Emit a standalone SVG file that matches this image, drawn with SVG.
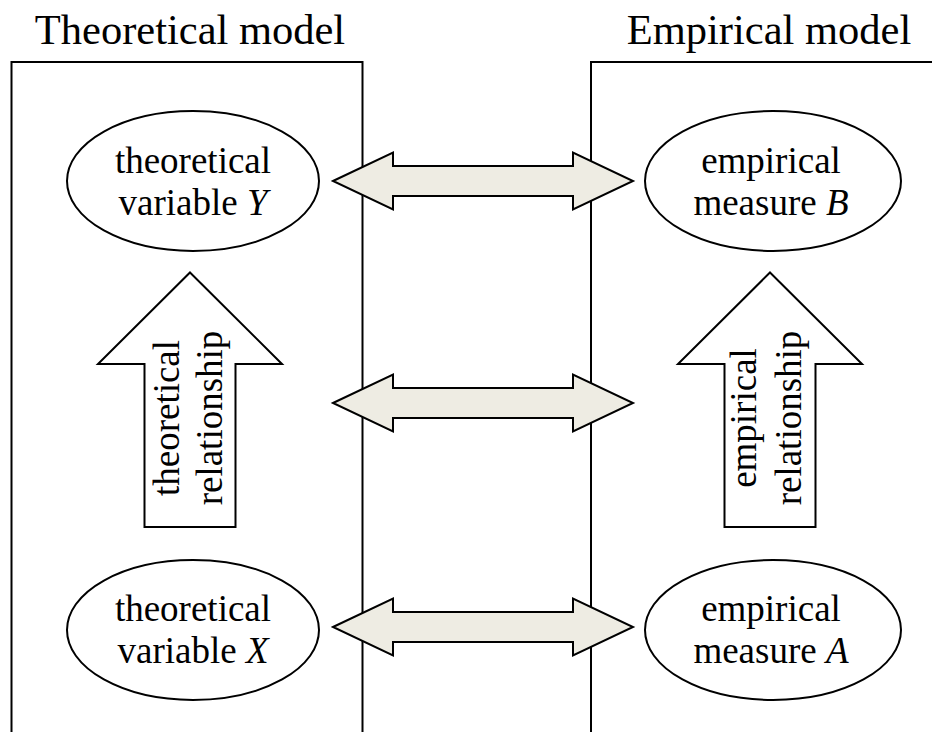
<svg xmlns="http://www.w3.org/2000/svg" width="932" height="732" viewBox="0 0 932 732">
<style>
text{font-family:"Liberation Serif","Times New Roman",serif;fill:#000}
.t{font-size:42.5px}
.n{font-size:37px}
.box{fill:none;stroke:#000;stroke-width:2}
.ell{fill:#fff;stroke:#000;stroke-width:2}
.up{fill:#fff;stroke:#000;stroke-width:2;stroke-linejoin:miter}
.dbl{fill:#eeece3;stroke:#000;stroke-width:2;stroke-linejoin:miter}
</style>
<rect width="932" height="732" fill="#fff"/>
<g id="theoretical-model">
<path class="box" d="M11.5,733 V62 H362.5 V733"/>
<text class="t" x="190" y="44" text-anchor="middle">Theoretical model</text>
</g>
<g id="empirical-model">
<path class="box" d="M591,733 V62 H934"/>
<text class="t" x="769" y="44" text-anchor="middle">Empirical model</text>
</g>
<g id="var-y">
<ellipse class="ell" cx="193" cy="181" rx="126" ry="70"/>
<text class="n" x="193" y="173" text-anchor="middle">theoretical</text>
<text class="n" x="193" y="215" text-anchor="middle">variable <tspan font-style="italic">Y</tspan></text>
</g>
<g id="var-x">
<ellipse class="ell" cx="193" cy="630" rx="126" ry="70"/>
<text class="n" x="193" y="621" text-anchor="middle">theoretical</text>
<text class="n" x="193" y="663" text-anchor="middle">variable <tspan font-style="italic">X</tspan></text>
</g>
<g id="measure-b">
<ellipse class="ell" cx="773" cy="181" rx="128" ry="70"/>
<text class="n" x="771" y="173" text-anchor="middle">empirical</text>
<text class="n" x="771" y="215" text-anchor="middle">measure <tspan font-style="italic">B</tspan></text>
</g>
<g id="measure-a">
<ellipse class="ell" cx="773" cy="630" rx="128" ry="70"/>
<text class="n" x="771" y="621" text-anchor="middle">empirical</text>
<text class="n" x="771" y="663" text-anchor="middle">measure <tspan font-style="italic">A</tspan></text>
</g>
<g id="connectors">
<g id="theoretical-relationship">
<path class="up" d="M190,272.5 L282,364 H235.5 V527 H144.5 V364 H98 Z"/>
<text class="n" transform="translate(179,418) rotate(-90)" text-anchor="middle">theoretical</text>
<text class="n" transform="translate(222,418) rotate(-90)" text-anchor="middle">relationship</text>
</g>
<g id="empirical-relationship">
<path class="up" d="M770,272.5 L862,364 H815.5 V527 H724.5 V364 H678 Z"/>
<text class="n" transform="translate(756,418) rotate(-90)" text-anchor="middle">empirical</text>
<text class="n" transform="translate(801,418) rotate(-90)" text-anchor="middle">relationship</text>
</g>
<path class="dbl" d="M333,181 L393,152.5 V166 H573 V152.5 L633,181 L573,209.5 V196 H393 V209.5 Z"/>
<path class="dbl" d="M333,403 L393,374.5 V388 H573 V374.5 L633,403 L573,431.5 V418 H393 V431.5 Z"/>
<path class="dbl" d="M333,627 L393,598.5 V612 H573 V598.5 L633,627 L573,655.5 V642 H393 V655.5 Z"/>
</g>
</svg>
